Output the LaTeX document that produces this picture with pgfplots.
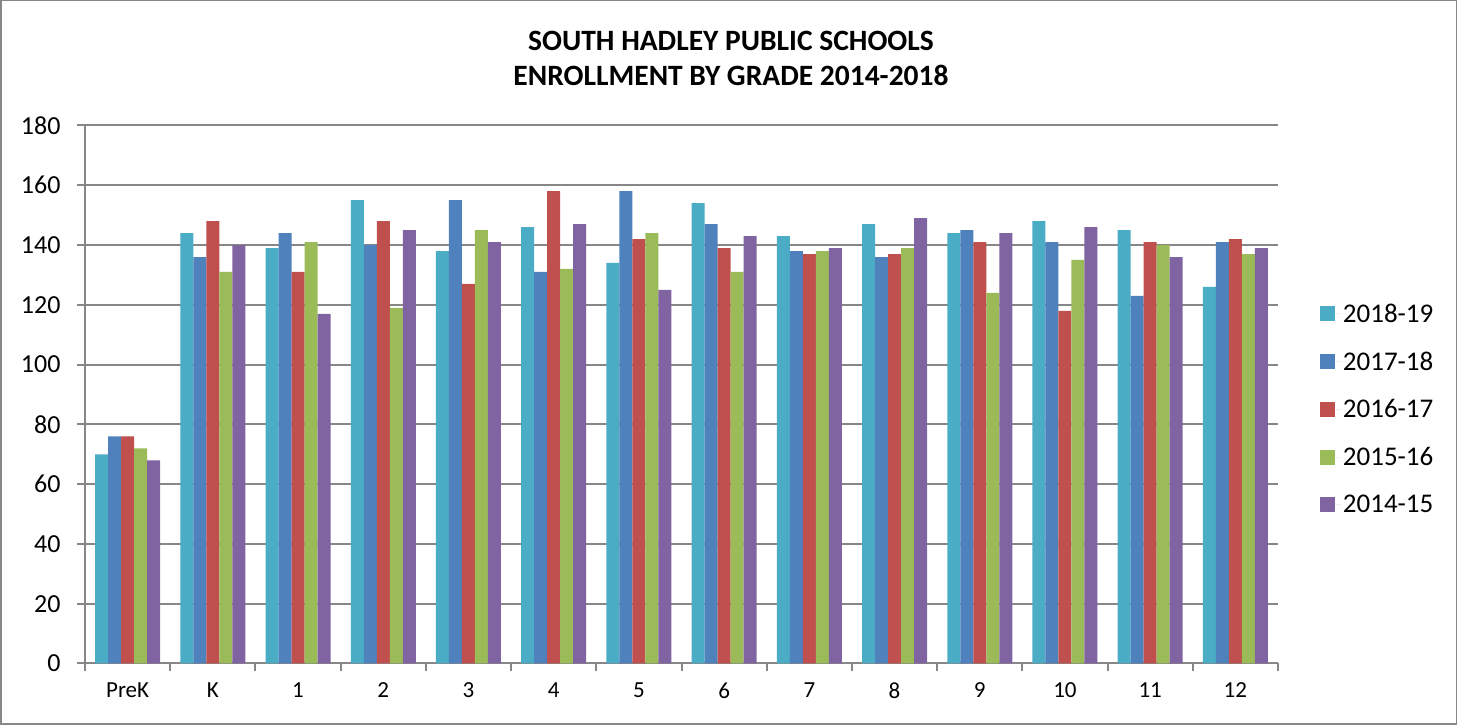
\documentclass[border=0pt]{standalone}
\usepackage{pgfplots}
\pgfplotsset{compat=1.18}
\usepackage{pgfplotstable}
\usepackage{fontspec}
\setmainfont{Carlito}
\definecolor{cA}{HTML}{4BACC6}
\definecolor{cB}{HTML}{4F81BD}
\definecolor{cC}{HTML}{C0504D}
\definecolor{cD}{HTML}{9BBB59}
\definecolor{cE}{HTML}{8064A2}
\definecolor{gridgray}{HTML}{878787}
\pgfplotstableread{
x a b c d e
0 70 76 76 72 68
1 144 136 148 131 140
2 139 144 131 141 117
3 155 140 148 119 145
4 138 155 127 145 141
5 146 131 158 132 147
6 134 158 142 144 125
7 154 147 139 131 143
8 143 138 137 138 139
9 147 136 137 139 149
10 144 145 141 124 144
11 148 141 118 135 146
12 145 123 141 140 136
13 126 141 142 137 139
}\data
\begin{document}
\begin{tikzpicture}[x=1pt,y=1pt]
\draw[gridgray, line width=1.5pt] (0.75,0.75) rectangle (1456.25,724.25);
\node[align=center, font=\fontsize{29.5}{35}\selectfont\bfseries] at (731,667) {SOUTH HADLEY PUBLIC SCHOOLS\\ENROLLMENT BY GRADE 2014-2018};
\begin{axis}[
  at={(85pt,61.5pt)}, anchor=south west,
  scale only axis, width=1193pt, height=538pt,
  ybar=0pt, bar width=13pt,
  xmin=-0.5, xmax=13.5, ymin=0, ymax=180,
  enlarge x limits=false,
  axis x line*=bottom, axis y line*=left,
  axis line style={gridgray, line width=2pt},
  ytick={0,20,...,180},
  xtick={-0.5,0.5,...,13.5},
  x tick label as interval,
  xticklabels={PreK,K,1,2,3,4,5,6,7,8,9,10,11,12},
  tick align=outside,
  major tick length=8pt,
  tick style={gridgray, line width=2pt},
  ymajorgrids, grid style={gridgray, line width=2pt},
  /pgf/number format/assume math mode=true,
  yticklabel style={font=\fontsize{26}{30}\selectfont, xshift=-13pt},
  xticklabel style={font=\fontsize{23}{27}\selectfont, yshift=-8pt},
  legend style={at={(1.035,0.473)}, anchor=west, draw=none, fill=none,
    font=\fontsize{27}{32}\selectfont, row sep=24pt, inner sep=0pt, cells={anchor=west}},
  legend image code/.code={\draw[#1,draw=none] (0pt,-7.5pt) rectangle (15pt,7.5pt); \path (0pt,0pt) -- (21pt,0pt);},
]
\addplot[fill=cA, draw=none] table[x=x,y=a]{\data};
\addplot[fill=cB, draw=none] table[x=x,y=b]{\data};
\addplot[fill=cC, draw=none] table[x=x,y=c]{\data};
\addplot[fill=cD, draw=none] table[x=x,y=d]{\data};
\addplot[fill=cE, draw=none] table[x=x,y=e]{\data};
\legend{2018-19,2017-18,2016-17,2015-16,2014-15}
\end{axis}
\end{tikzpicture}
\end{document}
